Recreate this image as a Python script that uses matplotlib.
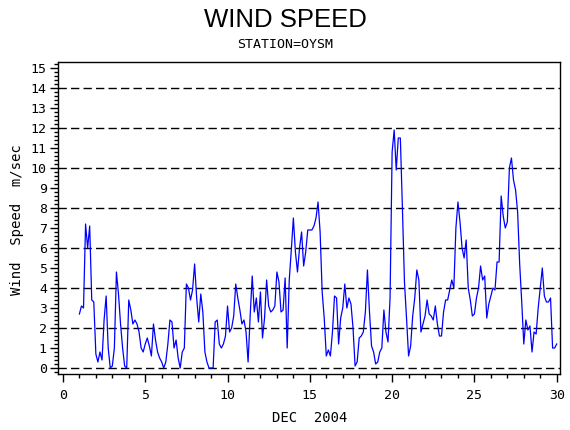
import numpy as np
import matplotlib
matplotlib.use('Agg')
import matplotlib.pyplot as plt
from matplotlib.ticker import MultipleLocator

# 3-hourly wind speed readings, one row per day (00,03,...,21 h), Dec 1 .. Dec 29, plus Dec 30 00h
speed_rows = [
    [2.7, 3.1, 3.0, 7.2, 6.0, 7.1, 3.4, 3.3],   # 1
    [0.7, 0.3, 0.8, 0.4, 2.4, 3.6, 1.0, 0.0],   # 2
    [0.1, 1.0, 4.8, 3.7, 2.2, 1.0, 0.1, 0.0],   # 3
    [3.4, 2.9, 2.2, 2.4, 2.2, 1.8, 1.0, 0.8],   # 4
    [1.2, 1.5, 1.1, 0.6, 2.2, 1.4, 0.8, 0.5],   # 5
    [0.3, 0.0, 0.3, 1.2, 2.4, 2.3, 1.0, 1.4],   # 6
    [0.5, 0.0, 0.8, 1.0, 4.2, 4.0, 3.4, 3.9],   # 7
    [5.2, 3.5, 2.3, 3.7, 2.8, 0.8, 0.3, 0.0],   # 8
    [0.0, 0.0, 2.3, 2.4, 1.2, 1.0, 1.2, 1.6],   # 9
    [3.1, 1.8, 2.0, 2.6, 4.2, 3.5, 2.9, 2.2],   # 10
    [2.4, 1.8, 0.3, 2.6, 4.6, 2.8, 3.5, 2.3],   # 11
    [3.8, 1.5, 2.5, 4.4, 3.1, 2.8, 2.9, 3.1],   # 12
    [4.8, 4.3, 2.8, 2.9, 4.5, 1.0, 4.4, 5.9],   # 13
    [7.5, 5.8, 4.8, 6.0, 6.8, 5.1, 5.8, 6.9],   # 14
    [6.9, 6.9, 7.1, 7.5, 8.3, 6.8, 3.8, 2.5],   # 15
    [0.6, 0.9, 0.6, 1.8, 3.6, 3.5, 1.2, 2.5],   # 16
    [3.0, 4.2, 3.0, 3.5, 3.2, 2.0, 0.1, 0.3],   # 17
    [1.5, 1.6, 1.8, 2.8, 4.9, 2.8, 1.1, 0.8],   # 18
    [0.2, 0.3, 0.8, 1.0, 2.9, 1.8, 1.3, 3.5],   # 19
    [10.8, 11.9, 9.9, 11.5, 11.5, 8.0, 4.3, 2.5],  # 20
    [0.6, 1.1, 2.6, 3.5, 4.9, 4.4, 1.8, 2.2],   # 21
    [2.6, 3.4, 2.7, 2.6, 2.4, 3.1, 2.2, 1.6],   # 22
    [1.6, 2.8, 3.4, 3.4, 3.9, 4.4, 4.0, 7.0],   # 23
    [8.3, 7.3, 6.0, 5.5, 6.4, 4.0, 3.4, 2.6],   # 24
    [2.7, 3.5, 4.0, 5.1, 4.4, 4.6, 2.5, 3.2],   # 25
    [3.6, 4.0, 3.9, 5.3, 5.3, 8.6, 7.6, 7.0],   # 26
    [7.3, 10.0, 10.5, 9.4, 8.9, 7.8, 5.2, 3.3],  # 27
    [1.2, 2.4, 1.9, 2.1, 0.8, 1.8, 1.7, 3.0],   # 28
    [4.0, 5.0, 3.6, 3.3, 3.3, 3.5, 1.0, 1.0],   # 29
]
speed_last = [1.2]  # Dec 30 00h

speed = np.array([v for row in speed_rows for v in row] + speed_last)
day = 1 + np.arange(len(speed)) * 3 / 24.0

mono = 'DejaVu Sans Mono'

fig = plt.figure(figsize=(5.7, 4.3), dpi=100)
ax = fig.add_axes([58/570, 1-374/430, 502/570, 312/430])

for yv in range(0, 16, 2):
    ax.axhline(yv, color='black', lw=1, ls=(0, (6, 3)), zorder=1)
ax.plot(day, speed, color='#0000ff', lw=0.9, zorder=2)

ax.set_xlim(-0.3, 30.2)
ax.set_ylim(-0.3, 15.3)
ax.xaxis.set_major_locator(MultipleLocator(5))
ax.xaxis.set_minor_locator(MultipleLocator(1))
ax.yaxis.set_major_locator(MultipleLocator(1))
ax.yaxis.set_minor_locator(MultipleLocator(0.2))
ax.tick_params(which='major', length=6, width=1, direction='out', labelsize=9.5, pad=2)
ax.tick_params(which='minor', length=3, width=1, direction='out')
ax.tick_params(axis='x', pad=5)
for lab in ax.get_xticklabels() + ax.get_yticklabels():
    lab.set_family(mono)
for s in ax.spines.values():
    s.set_linewidth(1)

ax.set_xlabel('DEC  2004', family=mono, fontsize=10, va='center')
ax.xaxis.set_label_coords((310-58)/502, (374-418)/312)
ax.set_ylabel('Wind  Speed  m/sec', family=mono, fontsize=10, va='center')
ax.yaxis.set_label_coords((17-58)/502, (374-220)/312)

fig.text(0.5, 1-20/430, 'WIND SPEED', ha='center', va='center',
         family='Liberation Sans', fontsize=18.5)
fig.text(0.5, 1-44/430, 'STATION=OYSM', ha='center', va='center',
         family=mono, fontsize=9.5)

fig.savefig('out.png', dpi=100)
